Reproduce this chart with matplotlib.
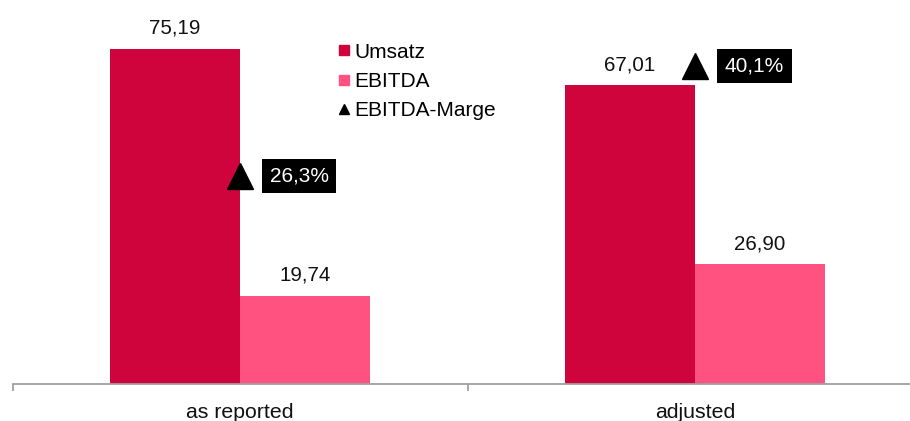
import matplotlib
matplotlib.use("Agg")
import matplotlib.pyplot as plt
from matplotlib.lines import Line2D
import numpy as np

plt.rcParams['font.family'] = ['Liberation Sans', 'DejaVu Sans']

categories = ["as reported", "adjusted"]
umsatz = [75.19, 67.01]
ebitda = [19.74, 26.90]
marge = [26.3, 40.1]

c_umsatz = "#D0043C"
c_ebitda = "#FF5280"

fig = plt.figure(figsize=(9.10, 4.21), dpi=100)
ax = fig.add_axes([12.5 / 910, 37 / 421, 1.0, 384 / 421])
x = np.arange(len(categories))
w = 130 / 455

ax.bar(x - w / 2, umsatz, w, color=c_umsatz, zorder=2)
ax.bar(x + w / 2, ebitda, w, color=c_ebitda, zorder=2)

def fmt(v):
    return f"{v:.2f}".replace('.', ',')

for xi, v in zip(x - w / 2, umsatz):
    ax.annotate(fmt(v), (xi, v), xytext=(0, 10.8), textcoords='offset points',
                ha='center', va='baseline', fontsize=14.8, color='#111111')
for xi, v in zip(x + w / 2, ebitda):
    ax.annotate(fmt(v), (xi, v), xytext=(0, 10.8), textcoords='offset points',
                ha='center', va='baseline', fontsize=14.8, color='#111111')

ax.set_xlim(-0.5, 1.5)
ax.set_ylim(0, 384 / 4.46)
ax.set_yticks([])
for s in ['top', 'right', 'left']:
    ax.spines[s].set_visible(False)
ax.spines['bottom'].set_color('#A0A0A0')
ax.spines['bottom'].set_linewidth(1.3)

ax.set_xticks([-0.5, 0.5, 1.5])
ax.set_xticklabels([])
ax.tick_params(axis='x', which='major', length=5, width=1.3, color='#A0A0A0', direction='out')
ax.set_xticks(x, minor=True)
ax.set_xticklabels(categories, minor=True, fontsize=15.3, color='#111111')
ax.tick_params(axis='x', which='minor', length=0, pad=14)

ax2 = ax.twinx()
ax2.set_ylim(0, 384 / 7.92)
ax2.set_yticks([])
for s in ax2.spines.values():
    s.set_visible(False)
ax2.plot(x, marge, linestyle='none', marker='^', markersize=19, color='black', zorder=3)
for xi, m in zip(x, marge):
    ax2.annotate(f"{m:.1f}%".replace('.', ','), (xi, m), xytext=(42.8, 0),
                 textcoords='offset points', ha='center', va='center',
                 fontsize=15, color='white',
                 bbox=dict(boxstyle='square,pad=0.36', fc='black', ec='none'))

handles = [
    Line2D([], [], linestyle='none', marker='s', markersize=7.7, color=c_umsatz),
    Line2D([], [], linestyle='none', marker='s', markersize=7.7, color=c_ebitda),
    Line2D([], [], linestyle='none', marker='^', markersize=7.5, color='black'),
]
fig.legend(handles, ["Umsatz", "EBITDA", "EBITDA-Marge"], loc='upper left',
           bbox_to_anchor=(338 / 910, 1 - 42.5 / 421), frameon=False,
           fontsize=15, handlelength=0.6, handletextpad=0.2,
           labelspacing=0.5, borderpad=0, borderaxespad=0)

fig.savefig("out.png", dpi=100)
